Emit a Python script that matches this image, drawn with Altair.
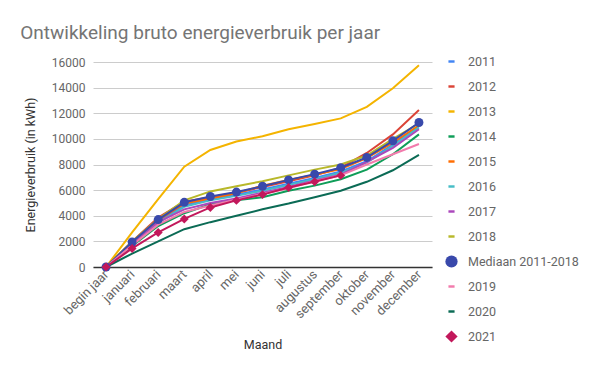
import altair as alt
import pandas as pd

months = ["begin jaar", "januari", "februari", "maart", "april", "mei", "juni",
          "juli", "augustus", "september", "oktober", "november", "december"]

series_names = ["2011", "2012", "2013", "2014", "2015", "2016", "2017", "2018",
                "Mediaan 2011-2018", "2019", "2020", "2021"]

colors = ["#4285f4", "#db4437", "#f4b400", "#0f9d58", "#ff6d01", "#46bdc6",
          "#ab47bc", "#b8b82a", "#3949ab", "#f27bac", "#0b6b55", "#c2185b"]

v2011 = [0, 1850, 3600, 4800, 5300, 5650, 6050, 6500, 6950, 7450, 8250, 9550, 11000]
v2012 = [0, 2000, 3850, 5100, 5450, 5800, 6250, 6700, 7150, 7750, 8900, 10350, 12250]
v2013 = [0, 2700, 5300, 7830, 9130, 9800, 10200, 10750, 11160, 11600, 12500, 13950, 15750]
v2014 = [0, 1650, 3200, 4200, 4900, 5200, 5450, 5950, 6350, 6850, 7600, 8800, 10350]
v2015 = [0, 1900, 3650, 4950, 5350, 5750, 6350, 6800, 7200, 7650, 8500, 9700, 11050]
v2016 = [0, 1750, 3450, 4700, 5200, 5550, 5950, 6400, 6850, 7350, 8150, 9450, 10900]
v2017 = [0, 1800, 3500, 4500, 5000, 5350, 5800, 6250, 6750, 7200, 8200, 9300, 10750]
v2018 = [0, 2000, 3750, 5200, 5900, 6300, 6700, 7150, 7600, 8000, 8700, 10000, 11200]
vmed = [0, 1950, 3700, 5050, 5500, 5850, 6300, 6800, 7250, 7750, 8550, 9850, 11280]
v2019 = [0, 1700, 3300, 4300, 4800, 5250, 5700, 6150, 6700, 7150, 8000, 8800, 9600]
v2020 = [0, 1050, 2000, 2950, 3500, 4000, 4500, 4950, 5450, 5950, 6650, 7550, 8750]
v2021 = [0, 1450, 2700, 3750, 4650, 5200, 5650, 6200, 6650, 7150]

y_ticks = [0, 2000, 4000, 6000, 8000, 10000, 12000, 14000, 16000]

all_values = [v2011, v2012, v2013, v2014, v2015, v2016, v2017, v2018,
              vmed, v2019, v2020, v2021]

rows = []
for order, (name, vals) in enumerate(zip(series_names, all_values)):
    for m, v in zip(months, vals):
        rows.append({"Maand": m, "Serie": name, "Waarde": v, "order": order})
df = pd.DataFrame(rows)

bar = "M-0.5,-0.2 L0.5,-0.2 L0.5,0.2 L-0.5,0.2 Z"
shapes = [bar] * 8 + ["circle", bar, bar, "diamond"]

color_scale = alt.Scale(domain=series_names, range=colors)
shape_scale = alt.Scale(domain=series_names, range=shapes)

legend = alt.Legend(
    title=None, orient="none", legendX=352, legendY=-7,
    symbolSize=150, symbolStrokeWidth=0, rowPadding=12,
    labelFontSize=12.5, labelColor="#666666", labelFont="Roboto",
    symbolOpacity=1, labelOffset=10,
)

x_enc = alt.X("Maand:O", sort=months, scale=alt.Scale(padding=0.5),
              axis=alt.Axis(title="Maand", labelAngle=-45, labelAlign="right",
                            labelBaseline="middle"))
y_enc = alt.Y("Waarde:Q", scale=alt.Scale(domain=[0, 16000], nice=False),
              axis=alt.Axis(title="Energieverbruik (in kWh)", values=y_ticks,
                            format="d", tickCount=20))

base = alt.Chart(df)

lines = base.mark_line(strokeWidth=2).encode(
    x=x_enc, y=y_enc,
    color=alt.Color("Serie:N", scale=color_scale, sort=series_names, legend=None),
    detail="Serie:N",
    order="order:Q",
)

points = base.transform_filter(
    alt.FieldOneOfPredicate(field="Serie", oneOf=["Mediaan 2011-2018", "2021"])
).mark_point(filled=True, size=80, opacity=1).encode(
    x=alt.X("Maand:O", sort=months),
    y=alt.Y("Waarde:Q"),
    color=alt.Color("Serie:N", scale=color_scale, sort=series_names, legend=legend),
    shape=alt.Shape("Serie:N", scale=shape_scale, sort=series_names, legend=legend),
)

chart = alt.layer(lines, points).resolve_legend(
    color="independent", shape="independent"
).properties(
    width=339, height=205,
    title=alt.TitleParams("Ontwikkeling bruto energieverbruik per jaar", anchor="start",
                          dx=-4, offset=12, fontSize=19, font="Roboto",
                          fontWeight="normal", color="#757575"),
    autosize=alt.AutoSizeParams(type="none"),
    padding={"left": 85, "top": 54, "right": 160, "bottom": 96},
).configure_view(
    stroke=None
).configure_axis(
    labelFont="Roboto", titleFont="Roboto", labelColor="#666666",
    titleColor="#333333", titleFontWeight="normal", titleFontSize=12.5, ticks=False,
).configure_axisX(
    labelFontSize=13, titlePadding=18, domainColor="#333333", domainWidth=1.5,
    labelPadding=5, grid=False,
).configure_axisY(
    labelFontSize=12, titlePadding=14, domain=False, gridColor="#cccccc",
    labelPadding=8, labelOverlap=False,
)

chart.save("out.html", embed_options={"renderer": "svg", "actions": False})
